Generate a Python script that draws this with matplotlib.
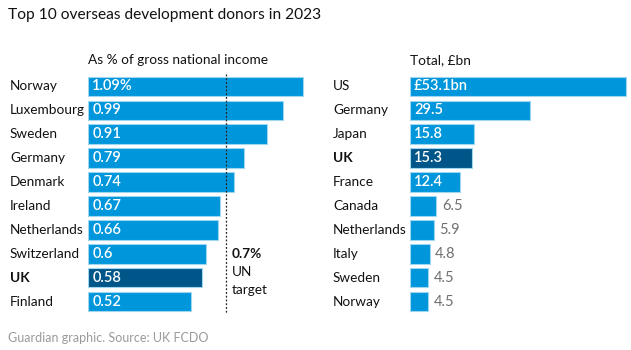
import matplotlib
matplotlib.use("Agg")
import matplotlib.pyplot as plt

plt.rcParams['font.family'] = ['Lato', 'DejaVu Sans']

gni_countries = ["Norway", "Luxembourg", "Sweden", "Germany", "Denmark", "Ireland",
                 "Netherlands", "Switzerland", "UK", "Finland"]
gni_values = [1.09, 0.99, 0.91, 0.79, 0.74, 0.67, 0.66, 0.6, 0.58, 0.52]
gni_labels = ["1.09%", "0.99", "0.91", "0.79", "0.74", "0.67", "0.66", "0.6", "0.58", "0.52"]

tot_countries = ["US", "Germany", "Japan", "UK", "France", "Canada", "Netherlands",
                 "Italy", "Sweden", "Norway"]
tot_values = [53.1, 29.5, 15.8, 15.3, 12.4, 6.5, 5.9, 4.8, 4.5, 4.5]
tot_labels = ["£53.1bn", "29.5", "15.8", "15.3", "12.4", "6.5", "5.9", "4.8", "4.5", "4.5"]

un_target = 0.7

W, H = 631, 350
BLUE = "#0096db"
DARK = "#005689"
EDGE = "#9fd6f0"
GREY = "#707070"
FS = 9.8

fig = plt.figure(figsize=(W / 100, H / 100), dpi=100)

def px_axes(x0, x1, ytop, ybot):
    return fig.add_axes([x0 / W, 1 - ybot / H, (x1 - x0) / W, (ybot - ytop) / H])

row_top = 74.5
row_bot = 313.5

def draw_panel(ax, countries, values, labels, xmax, inside_min):
    n = len(values)
    ys = list(range(n))
    colors = [DARK if c == "UK" else BLUE for c in countries]
    ax.barh(ys, values, height=0.82, color=colors, edgecolor=EDGE, linewidth=0.8)
    ax.set_xlim(0, xmax)
    ax.set_ylim(n - 0.5, -0.5)
    ax.axis("off")
    for i, (v, lab, c) in enumerate(zip(values, labels, countries)):
        if v >= inside_min:
            ax.text(xmax * 0.018, i, lab, color="white", fontsize=10.5,
                    fontweight="semibold", va="center", ha="left")
        else:
            ax.text(v + xmax * 0.025, i, lab, color=GREY, fontsize=10.5,
                    va="center", ha="left")

# left panel: 0..1.09 spans px 88..303
axL = px_axes(88, 320, row_top, row_bot)
draw_panel(axL, gni_countries, gni_values, gni_labels, 232 / 197.2, 0.3)
axL.plot([un_target, un_target], [-0.5, 9.5], color="#222222", linestyle=(0, (1.5, 1.5)),
         linewidth=0.9, clip_on=False)
for i, c in enumerate(gni_countries):
    fig.text(10 / W, 1 - (86.5 + i * 23.9) / H, c, fontsize=FS, va="center", ha="left",
             color="#121212", fontweight="bold" if c == "UK" else "normal")

# right panel: 0..53.1 spans px 410..626
axR = px_axes(410, 630, row_top, row_bot)
draw_panel(axR, tot_countries, tot_values, tot_labels, 220 / 4.07, 10)
for i, c in enumerate(tot_countries):
    fig.text(333 / W, 1 - (86.5 + i * 23.9) / H, c, fontsize=FS, va="center", ha="left",
             color="#121212", fontweight="bold" if c == "UK" else "normal")

# UN target annotation
fig.text(232 / W, 1 - 254 / H, "0.7%", fontsize=FS, fontweight="bold", va="center",
         ha="left", color="#121212")
fig.text(232 / W, 1 - 272 / H, "UN", fontsize=FS, va="center", ha="left", color="#121212")
fig.text(232 / W, 1 - 290 / H, "target", fontsize=FS, va="center", ha="left", color="#121212")

# titles
fig.text(8 / W, 1 - 15 / H, "Top 10 overseas development donors in 2023", fontsize=11.2,
         va="center", ha="left", color="#121212")
fig.text(88 / W, 1 - 60 / H, "As % of gross national income", fontsize=FS,
         va="center", ha="left", color="#121212")
fig.text(410 / W, 1 - 60 / H, "Total, £bn", fontsize=FS, va="center", ha="left",
         color="#121212")
fig.text(8 / W, 1 - 338 / H, "Guardian graphic. Source: UK FCDO", fontsize=9,
         va="center", ha="left", color="#9a9a9a")

fig.savefig("out.png", dpi=100, facecolor="white")
